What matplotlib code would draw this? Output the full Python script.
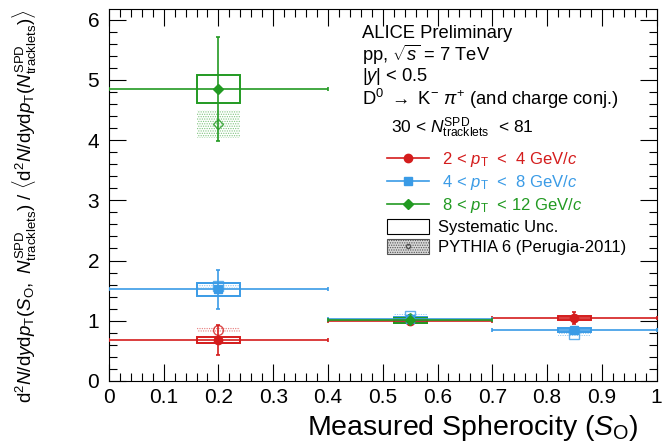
import numpy as np
import matplotlib
matplotlib.use("Agg")
import matplotlib.pyplot as plt
from matplotlib.patches import Rectangle
from matplotlib.lines import Line2D
from matplotlib.ticker import MultipleLocator

plt.rcParams['font.family'] = ['Liberation Sans', 'DejaVu Sans']
plt.rcParams['mathtext.fontset'] = 'custom'
plt.rcParams['mathtext.rm'] = 'Liberation Sans'
plt.rcParams['mathtext.it'] = 'Liberation Sans:italic'
plt.rcParams['mathtext.bf'] = 'Liberation Sans:bold'
plt.rcParams['hatch.linewidth'] = 0.6

# spherocity bins
bin_center = np.array([0.2, 0.55, 0.85])
bin_half = np.array([0.2, 0.15, 0.15])
box_half = np.array([0.04, 0.03, 0.03])

# 2 < pT < 4 GeV/c
red_val = np.array([0.68, 0.99, 1.04])
red_stat = np.array([0.25, 0.06, 0.10])
red_syst = np.array([0.05, 0.03, 0.03])
red_pyth = np.array([0.85, np.nan, np.nan])
red_pyth_err = np.array([0.04, np.nan, np.nan])

# 4 < pT < 8 GeV/c
blue_val = np.array([1.52, 1.03, 0.85])
blue_stat = np.array([0.33, 0.06, 0.05])
blue_syst = np.array([0.11, 0.03, 0.03])
blue_pyth = np.array([1.58, 1.08, 0.78])
blue_pyth_err = np.array([0.04, 0.03, 0.03])

# 8 < pT < 12 GeV/c
green_val = np.array([4.85, 1.01, np.nan])
green_stat = np.array([0.87, 0.08, np.nan])
green_syst = np.array([0.24, 0.04, np.nan])
green_pyth = np.array([4.27, 1.04, np.nan])
green_pyth_err = np.array([0.23, 0.03, np.nan])

series = [
    ('#d41c1c', 'o', red_val, red_stat, red_syst, red_pyth, red_pyth_err,
     r' 2 < $p_{\rm T}$  <  4 GeV/$c$'),
    ('#3a9be6', 's', blue_val, blue_stat, blue_syst, blue_pyth, blue_pyth_err,
     r' 4 < $p_{\rm T}$  <  8 GeV/$c$'),
    ('#229a22', 'D', green_val, green_stat, green_syst, green_pyth, green_pyth_err,
     r' 8 < $p_{\rm T}$  < 12 GeV/$c$'),
]

fig = plt.figure(figsize=(6.68, 4.46), dpi=100)
ax = fig.add_axes([0.163, 0.146, 0.82, 0.834])

handles = []
for color, mk, val, stat, syst, pyth, pyth_err, label in series:
    ok = ~np.isnan(val)
    # model prediction: dotted band with open marker
    for xc, bw, p, pe in zip(bin_center, box_half, pyth, pyth_err):
        if np.isnan(p):
            continue
        ax.add_patch(Rectangle((xc - bw, p - pe), 2 * bw, 2 * pe,
                               facecolor='none', edgecolor=color, alpha=0.55,
                               hatch='.......', lw=0, zorder=2))
    ax.plot(bin_center, pyth, ls='none', marker=mk, mfc='none', mec=color,
            ms=7 if mk != 'D' else 5.5, mew=1.0, alpha=0.8, zorder=3)
    # systematic boxes
    for xc, bw, v, s in zip(bin_center[ok], box_half[ok], val[ok], syst[ok]):
        ax.add_patch(Rectangle((xc - bw, v - s), 2 * bw, 2 * s,
                               facecolor='none', edgecolor=color, lw=1.4,
                               zorder=4))
    ax.errorbar(bin_center[ok], val[ok], xerr=bin_half[ok], yerr=stat[ok],
                fmt=mk, color=color, ms=6 if mk != 'D' else 5, lw=1.2,
                capsize=1.5, capthick=1.2, zorder=5)
    handles.append(Line2D([], [], color=color, marker=mk, lw=1.2,
                          ms=6 if mk != 'D' else 5))

ax.set_xlim(0, 1)
ax.set_ylim(0, 6.18)
ax.xaxis.set_minor_locator(MultipleLocator(0.02))
ax.yaxis.set_major_locator(MultipleLocator(1))
ax.yaxis.set_minor_locator(MultipleLocator(0.2))
ax.set_xticks(np.arange(0, 1.01, 0.1))
ax.set_xticklabels(['0', '0.1', '0.2', '0.3', '0.4', '0.5', '0.6', '0.7',
                    '0.8', '0.9', '1'])
ax.tick_params(which='both', direction='in', top=True, right=True,
               labelsize=15, width=0.8)
ax.tick_params(which='major', length=12)
ax.tick_params(axis='x', which='major', pad=5)
ax.tick_params(axis='y', which='major', pad=7)
ax.tick_params(which='minor', length=6)
for sp in ax.spines.values():
    sp.set_linewidth(0.8)

ax.set_xlabel(r'Measured Spherocity ($S_{\rm O}$)', fontsize=20.5)
ax.xaxis.set_label_coords(0.665, -0.085)
ax.set_ylabel(r'$\mathrm{d}^2N/\mathrm{d}y\mathrm{d}p_{\rm T}(S_{\rm O},\ N^{\rm SPD}_{\rm tracklets})\ /\ '
              r'\langle \mathrm{d}^2N/\mathrm{d}y\mathrm{d}p_{\rm T}(N^{\rm SPD}_{\rm tracklets})\rangle$',
              fontsize=13.5)
ax.yaxis.set_label_coords(-0.127, 0.47)

info = ['ALICE Preliminary',
        r'pp, $\sqrt{s}$ = 7 TeV',
        r'|$y$| < 0.5',
        r'D$^0$ $\rightarrow$ K$^{-}$ $\pi^{+}$ (and charge conj.)']
for i, line in enumerate(info):
    ax.text(0.462, 0.935 - i * 0.059, line, transform=ax.transAxes,
            fontsize=13.2, va='center', ha='left')

ax.text(0.515, 0.68, r'30 < $N^{\rm SPD}_{\rm tracklets}$  < 81',
        transform=ax.transAxes, fontsize=12.5, va='center', ha='left')

syst_h = Rectangle((0, 0), 1, 1, facecolor='none', edgecolor='black', lw=0.8)
pyth_h = (Rectangle((0, 0), 1, 1, facecolor='#d8d8d8', edgecolor='#555555',
                    hatch='.......', lw=0.8),
          Line2D([], [], ls='none', marker='o', mfc='none', mec='#555555',
                 ms=3))
labels = [s[7] for s in series] + ['Systematic Unc.', 'PYTHIA 6 (Perugia-2011)']
leg = ax.legend(handles + [syst_h, pyth_h], labels, loc='upper left',
                bbox_to_anchor=(0.508, 0.62), frameon=False, fontsize=12,
                handlelength=2.5, handleheight=0.95, labelspacing=0.24,
                handletextpad=0.55, borderaxespad=0, borderpad=0)
for txt, s in zip(leg.get_texts(), series):
    txt.set_color(s[0])

fig.savefig('out.png', dpi=100)
